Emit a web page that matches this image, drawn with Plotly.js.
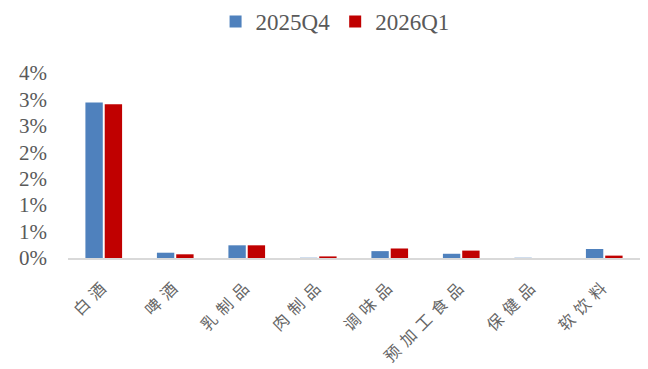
<!DOCTYPE html>
<html>
<head>
<meta charset="utf-8">
<script src="https://cdn.plot.ly/plotly-3.0.1.min.js"></script>
<style>html,body{margin:0;padding:0;background:#fff;}#chart{width:648px;height:369px;}
.xtick text{letter-spacing:6px;}</style>
</head>
<body>
<div id="chart"></div>
<script>
const categories = ['白酒', '啤酒', '乳制品', '肉制品', '调味品', '预加工食品', '保健品', '软饮料'];
const series1Name = '2025Q4';
const series1 = [2.94, 0.10, 0.24, 0.005, 0.13, 0.08, 0.005, 0.17];
const series2Name = '2026Q1';
const series2 = [2.91, 0.07, 0.24, 0.03, 0.18, 0.14, 0.0, 0.045];
const yTickVals = [0, 0.5, 1.0, 1.5, 2.0, 2.5, 3.0, 3.5];
const yTickText = ['0%', '1%', '1%', '2%', '2%', '3%', '3%', '4%'];

const data = [
  {type: 'bar', name: series1Name, x: categories, y: series1, marker: {color: '#4f81bd'}},
  {type: 'bar', name: series2Name, x: categories, y: series2, marker: {color: '#c00000'}}
];
const layout = {
  width: 648, height: 369,
  margin: {l: 68, r: 8, t: 73, b: 111},
  paper_bgcolor: '#fff', plot_bgcolor: '#fff',
  barmode: 'group', bargap: 0.46, bargroupgap: 0.1,
  showlegend: true,
  legend: {orientation: 'h', x: 0.258, xanchor: 'left', y: 1, yref: 'container', yanchor: 'top',
           font: {family: 'Liberation Serif, Times New Roman, serif', size: 23, color: '#595959'},
           itemwidth: 30, tracegroupgap: 0},
  xaxis: {type: 'category', tickangle: -45, showline: true, linecolor: '#d9d9d9', linewidth: 1.5,
          ticks: '', showgrid: false, zeroline: false, automargin: false,
          ticklabelstandoff: 9, ticklabelshift: 2,
          tickfont: {family: 'Noto Sans CJK SC, sans-serif', size: 16, color: '#666666'}},
  yaxis: {range: [0, 3.5], tickvals: yTickVals, ticktext: yTickText, showgrid: false, zeroline: false,
          showline: false, ticks: '', ticklen: 0, ticklabelstandoff: 20, automargin: false,
          tickfont: {family: 'Liberation Serif, Times New Roman, serif', size: 21, color: '#595959'}}
};
Plotly.newPlot('chart', data, layout, {displayModeBar: false, staticPlot: true});
</script>
</body>
</html>
